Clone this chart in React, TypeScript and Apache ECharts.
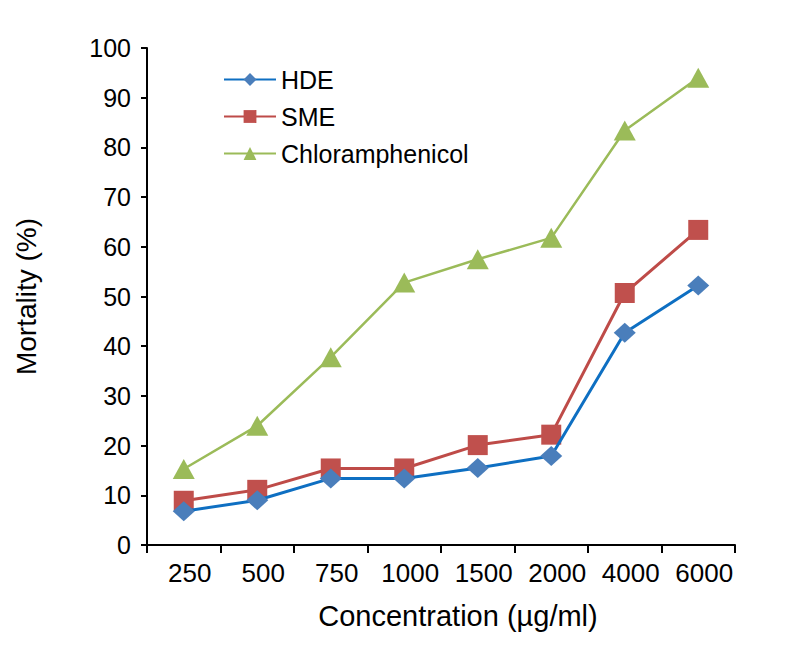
import React, { useEffect, useRef } from "react";
import * as echarts from "echarts";

const categories = ["250", "500", "750", "1000", "1500", "2000", "4000", "6000"];
const hdeValues = [6.8, 9.0, 13.4, 13.4, 15.5, 17.9, 42.7, 52.2];
const smeValues = [8.9, 11.1, 15.4, 15.4, 20.1, 22.2, 50.7, 63.4];
const chlorValues = [15.3, 24.0, 37.8, 52.8, 57.5, 61.8, 83.4, 94.0];

const FONT = "Liberation Sans, Arial, sans-serif";

export default function App() {
  const ref = useRef<HTMLDivElement>(null);
  useEffect(() => {
    if (!ref.current) return;
    const chart = echarts.init(ref.current, undefined, { renderer: "svg" });
    chart.setOption({
      animation: false,
      backgroundColor: "#ffffff",
      textStyle: { fontFamily: FONT },
      grid: { left: 147, right: 54, top: 48, bottom: 109 },
      legend: {
        orient: "vertical",
        left: 218,
        top: 61,
        itemWidth: 52,
        itemHeight: 16,
        itemGap: 10,
        textStyle: { fontSize: 25, lineHeight: 27, color: "#000", fontFamily: FONT },
        data: ["HDE", "SME", "Chloramphenicol"],
      },
      xAxis: {
        type: "category",
        data: categories,
        boundaryGap: true,
        name: "Concentration (µg/ml)",
        nameLocation: "middle",
        nameGap: 56,
        nameTextStyle: { fontSize: 29, color: "#000", fontFamily: FONT, padding: [0, 0, 0, 34] },
        axisLine: { lineStyle: { color: "#000", width: 2 } },
        axisTick: { show: true, interval: 0, length: 8, lineStyle: { color: "#000", width: 2 } },
        axisLabel: {
          interval: 0,
          fontSize: 26,
          color: "#000",
          margin: 15,
          fontFamily: FONT,
          padding: [0, 0, 0, 12],
        },
        splitLine: { show: false },
      },
      yAxis: {
        type: "value",
        min: 0,
        max: 100,
        interval: 10,
        name: "Mortality (%)",
        nameLocation: "middle",
        nameGap: 107,
        nameTextStyle: { fontSize: 28, color: "#000", fontFamily: FONT },
        axisLine: { show: true, lineStyle: { color: "#000", width: 2 } },
        axisTick: { show: true, length: 6, lineStyle: { color: "#000", width: 2 } },
        axisLabel: { fontSize: 25, color: "#000", margin: 16, fontFamily: FONT },
        splitLine: { show: false },
      },
      series: [
        {
          name: "HDE",
          type: "line",
          data: hdeValues,
          symbol: "diamond",
          symbolSize: [22, 20],
          lineStyle: { color: "#0E6FC2", width: 3 },
          itemStyle: { color: "#4A7EBB" },
          z: 3,
        },
        {
          name: "SME",
          type: "line",
          data: smeValues,
          symbol: "rect",
          symbolSize: 20,
          lineStyle: { color: "#BE4B48", width: 3 },
          itemStyle: { color: "#C0504D" },
          z: 2,
        },
        {
          name: "Chloramphenicol",
          type: "line",
          data: chlorValues,
          symbol: "triangle",
          symbolSize: [22, 20],
          lineStyle: { color: "#9BBB59", width: 2.5 },
          itemStyle: { color: "#9BBB59" },
          z: 1,
        },
      ],
    });
    return () => chart.dispose();
  }, []);
  return (
    <div
      ref={ref}
      style={{ position: "absolute", left: 0, top: 0, width: 789, height: 654 }}
    />
  );
}
